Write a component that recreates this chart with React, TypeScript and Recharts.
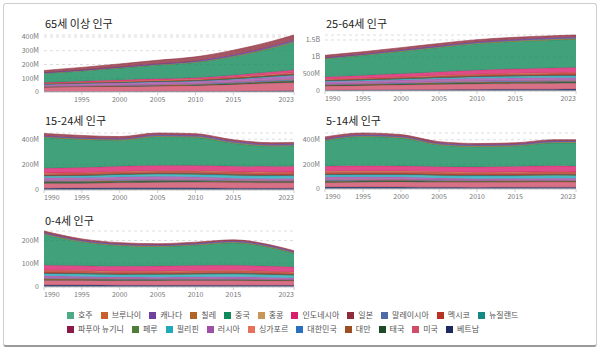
import { AreaChart, Area, XAxis, YAxis, CartesianGrid } from 'recharts'

const years = [1990, 1995, 2000, 2005, 2010, 2015, 2020, 2023]

// legend order
const countries = [
  '호주', '브루나이', '캐나다', '칠레', '중국', '홍콩', '인도네시아', '일본', '말레이시아', '멕시코', '뉴질랜드',
  '파푸아 뉴기니', '페루', '필리핀', '러시아', '싱가포르', '대한민국', '대만', '태국', '미국', '베트남',
]

const colors: Record<string, string> = {
  호주: '#4daa86',
  브루나이: '#c95f2c',
  캐나다: '#7040a0',
  칠레: '#b06425',
  중국: '#108a5a',
  홍콩: '#c8955a',
  인도네시아: '#d81f6b',
  일본: '#8e2c3c',
  말레이시아: '#4e6aa8',
  멕시코: '#b83324',
  뉴질랜드: '#168a82',
  '파푸아 뉴기니': '#8c1a48',
  페루: '#4e7d3a',
  필리핀: '#20a9b8',
  러시아: '#9e4fa6',
  싱가포르: '#e6705a',
  대한민국: '#2a70c0',
  대만: '#9c4f20',
  태국: '#1e4a28',
  미국: '#cf4d68',
  베트남: '#1c2b5c',
}

// bottom -> top
const stackOrder = [
  '베트남', '미국', '태국', '대만', '대한민국', '싱가포르', '러시아', '필리핀', '페루', '파푸아 뉴기니', '뉴질랜드',
  '멕시코', '홍콩', '인도네시아', '중국', '칠레', '호주', '브루나이', '말레이시아', '캐나다', '일본',
]

// population, millions
const age65plus: Record<string, number[]> = {
  호주: [1.9, 2.1, 2.4, 2.7, 3.0, 3.6, 4.2, 4.6],
  브루나이: [0.007, 0.009, 0.011, 0.014, 0.018, 0.024, 0.03, 0.035],
  캐나다: [3.1, 3.5, 3.8, 4.2, 4.8, 5.8, 6.8, 7.6],
  칠레: [0.8, 0.9, 1.1, 1.3, 1.6, 2.0, 2.5, 2.8],
  중국: [66, 75, 87, 100, 111, 134, 170, 200],
  홍콩: [0.5, 0.6, 0.7, 0.8, 0.9, 1.1, 1.4, 1.6],
  인도네시아: [6.2, 7.5, 9.5, 11.0, 12.3, 14.5, 17.5, 19.8],
  일본: [14.9, 18.3, 22.0, 25.6, 29.3, 33.8, 36.0, 36.2],
  말레이시아: [0.7, 0.8, 1.0, 1.2, 1.5, 1.9, 2.3, 2.6],
  멕시코: [3.5, 4.2, 5.0, 6.0, 7.0, 8.5, 10.2, 11.5],
  뉴질랜드: [0.4, 0.4, 0.5, 0.5, 0.6, 0.7, 0.8, 0.9],
  '파푸아 뉴기니': [0.08, 0.1, 0.12, 0.14, 0.17, 0.2, 0.25, 0.28],
  페루: [0.8, 1.0, 1.2, 1.4, 1.8, 2.2, 2.7, 3.0],
  필리핀: [1.9, 2.2, 2.6, 3.0, 3.6, 4.4, 5.3, 6.0],
  러시아: [14.6, 17.4, 18.3, 19.7, 18.3, 19.9, 22.2, 23.5],
  싱가포르: [0.17, 0.2, 0.25, 0.3, 0.35, 0.45, 0.6, 0.7],
  대한민국: [2.2, 2.7, 3.4, 4.4, 5.4, 6.6, 8.2, 9.5],
  대만: [1.3, 1.6, 1.9, 2.2, 2.5, 2.9, 3.8, 4.3],
  태국: [2.4, 3.0, 3.8, 4.7, 5.6, 7.5, 9.6, 11.1],
  미국: [31.2, 33.5, 35.0, 36.6, 40.5, 47.8, 55.7, 59.0],
  베트남: [3.5, 3.8, 4.4, 4.9, 5.0, 5.6, 7.4, 8.9],
}

const age25to64: Record<string, number[]> = {
  호주: [8, 8.8, 9.5, 10.3, 11.5, 12.5, 13.3, 14],
  브루나이: [0.1, 0.12, 0.15, 0.17, 0.2, 0.23, 0.25, 0.26],
  캐나다: [14, 15.5, 16.5, 18, 19, 20, 20.5, 21.5],
  칠레: [5.6, 6.4, 7.2, 8, 8.9, 9.8, 10.6, 11],
  중국: [540, 590, 655, 720, 780, 810, 825, 830],
  홍콩: [2.9, 3.2, 3.6, 3.9, 4.2, 4.3, 4.2, 4.1],
  인도네시아: [70, 82, 95, 107, 118, 130, 140, 146],
  일본: [66, 68, 69, 68, 66, 64, 62, 61],
  말레이시아: [6.5, 7.8, 9.2, 10.8, 12.5, 14.3, 16, 17],
  멕시코: [30, 36, 42, 48, 55, 61, 66, 69],
  뉴질랜드: [1.6, 1.7, 1.9, 2.1, 2.3, 2.4, 2.6, 2.7],
  '파푸아 뉴기니': [1.5, 1.7, 2.0, 2.4, 2.8, 3.3, 3.7, 4.0],
  페루: [8.3, 9.6, 11, 12.3, 13.8, 15.5, 17, 18],
  필리핀: [23, 27, 31, 36, 41, 46, 51, 55],
  러시아: [75, 76, 77, 80, 83, 82, 80, 78],
  싱가포르: [1.5, 1.8, 2.1, 2.4, 2.8, 3.1, 3.2, 3.2],
  대한민국: [20, 23, 26, 28, 30, 31, 31, 30],
  대만: [9.5, 10.5, 11.5, 12.5, 13.3, 13.8, 13.8, 13.7],
  태국: [24, 28, 31, 34, 37, 39, 40, 40],
  미국: [118, 128, 140, 153, 162, 167, 170, 172],
  베트남: [24, 29, 34, 40, 46, 50, 54, 56],
}

const age15to24: Record<string, number[]> = {
  호주: [2.7, 2.7, 2.7, 2.9, 3.1, 3.1, 3.1, 3.3],
  브루나이: [0.05, 0.05, 0.06, 0.07, 0.07, 0.07, 0.07, 0.07],
  캐나다: [4, 3.9, 4.1, 4.3, 4.6, 4.5, 4.4, 4.7],
  칠레: [2.5, 2.4, 2.5, 2.8, 3, 2.8, 2.6, 2.6],
  중국: [244, 222, 205, 228, 222, 180, 160, 160],
  홍콩: [1, 0.9, 0.9, 0.9, 0.9, 0.8, 0.7, 0.7],
  인도네시아: [37, 40, 41, 41, 42, 44, 45, 45],
  일본: [18, 18, 15.5, 13.8, 12.5, 12, 11.5, 11.2],
  말레이시아: [3.4, 3.8, 4.4, 5, 5.3, 5.4, 5.5, 5.4],
  멕시코: [18, 19, 19.5, 19.5, 21, 22, 22, 22],
  뉴질랜드: [0.6, 0.5, 0.5, 0.6, 0.6, 0.7, 0.7, 0.7],
  '파푸아 뉴기니': [0.9, 1.0, 1.2, 1.4, 1.6, 1.8, 1.9, 2.0],
  페루: [4.3, 4.6, 5, 5.4, 5.5, 5.3, 5.2, 5.4],
  필리핀: [12, 13.5, 15.5, 17, 18.5, 20, 21, 22],
  러시아: [21, 21, 23, 25, 21, 15, 14, 14.5],
  싱가포르: [0.5, 0.5, 0.5, 0.6, 0.7, 0.7, 0.7, 0.6],
  대한민국: [8.8, 8.4, 7.6, 6.8, 6.6, 6.4, 5.9, 5.3],
  대만: [4, 3.9, 3.6, 3.4, 3.3, 3.1, 2.6, 2.4],
  태국: [12, 12.5, 11.5, 10.7, 10.3, 9.8, 9.3, 9],
  미국: [37, 36, 40, 43, 44, 44, 43, 44],
  베트남: [13.5, 15, 17, 17, 17, 14.5, 13.5, 14],
}

const age5to14: Record<string, number[]> = {
  호주: [2.5, 2.6, 2.7, 2.7, 2.8, 3, 3.2, 3.3],
  브루나이: [0.05, 0.06, 0.07, 0.07, 0.06, 0.06, 0.06, 0.06],
  캐나다: [3.8, 4, 4.1, 3.9, 3.8, 3.8, 4, 4.1],
  칠레: [2.5, 2.8, 3, 2.8, 2.6, 2.5, 2.6, 2.6],
  중국: [208, 238, 228, 177, 164, 166, 187, 190],
  홍콩: [0.9, 0.9, 0.8, 0.8, 0.6, 0.6, 0.7, 0.7],
  인도네시아: [42, 42, 41, 42, 44, 46, 47, 46],
  일본: [17, 15, 12.5, 11.8, 11.5, 11, 10.5, 10],
  말레이시아: [4, 4.5, 4.8, 5.2, 5.3, 5.1, 5, 4.9],
  멕시코: [23, 23, 22.5, 22, 22, 22.5, 22, 21.5],
  뉴질랜드: [0.55, 0.58, 0.6, 0.6, 0.6, 0.6, 0.65, 0.66],
  '파푸아 뉴기니': [1.1, 1.3, 1.5, 1.7, 2, 2.2, 2.4, 2.5],
  페루: [5.5, 5.8, 6, 6, 5.8, 5.7, 5.8, 5.9],
  필리핀: [14.5, 16, 17.5, 19.5, 20.5, 21, 21.5, 21],
  러시아: [23, 22, 19, 15, 13, 14.5, 17, 17.5],
  싱가포르: [0.45, 0.5, 0.55, 0.55, 0.5, 0.48, 0.5, 0.5],
  대한민국: [8, 7, 6.7, 6.6, 5.3, 4.6, 4.6, 4.5],
  대만: [3.7, 3.4, 3.2, 3.1, 2.6, 2.1, 2, 1.9],
  태국: [11.5, 10.5, 9.8, 9.3, 8.8, 8.3, 7.8, 7.4],
  미국: [35, 38, 41, 40, 41, 41, 41, 40],
  베트남: [16, 17, 16.5, 14, 13, 14, 15, 15],
}

const age0to4: Record<string, number[]> = {
  호주: [1.3, 1.3, 1.3, 1.3, 1.5, 1.55, 1.55, 1.5],
  브루나이: [0.04, 0.04, 0.04, 0.035, 0.033, 0.032, 0.03, 0.03],
  캐나다: [1.9, 1.9, 1.7, 1.7, 1.9, 1.95, 1.9, 1.9],
  칠레: [1.5, 1.5, 1.3, 1.2, 1.2, 1.2, 1.1, 1.05],
  중국: [134, 102, 89, 84, 88, 97, 80, 59],
  홍콩: [0.4, 0.35, 0.3, 0.27, 0.35, 0.35, 0.25, 0.2],
  인도네시아: [21, 21, 21, 22, 23, 23, 22, 22],
  일본: [6.5, 6, 5.9, 5.6, 5.4, 5.1, 4.5, 4.1],
  말레이시아: [2.3, 2.5, 2.6, 2.5, 2.5, 2.6, 2.5, 2.4],
  멕시코: [11.5, 11.5, 11.3, 11, 11, 11, 10.5, 10.3],
  뉴질랜드: [0.3, 0.3, 0.29, 0.29, 0.32, 0.31, 0.3, 0.29],
  '파푸아 뉴기니': [0.7, 0.8, 0.9, 1, 1.1, 1.15, 1.2, 1.2],
  페루: [3, 3, 3, 2.9, 2.9, 3, 3, 3],
  필리핀: [8.5, 9.2, 9.7, 10.2, 10.6, 10.8, 10.6, 10.6],
  러시아: [10.5, 7.5, 6.3, 7.2, 8.3, 9.3, 8.5, 7.5],
  싱가포르: [0.25, 0.25, 0.23, 0.19, 0.2, 0.22, 0.2, 0.18],
  대한민국: [3.3, 3.5, 3.2, 2.4, 2.3, 2.2, 1.6, 1.3],
  대만: [1.6, 1.6, 1.5, 1.1, 0.9, 1, 0.85, 0.75],
  태국: [5, 4.8, 4.6, 4.4, 4.1, 3.7, 3.4, 3.2],
  미국: [18.5, 19.5, 19.2, 20, 20.2, 19.8, 19, 18.5],
  베트남: [9, 8.5, 7.5, 7.2, 7.3, 7.7, 7.6, 7.2],
}

const yearTicks = [1990, 1995, 2000, 2005, 2010, 2015, 2023]

const FONT = '"Noto Sans CJK KR", "Noto Sans", sans-serif'

function toRows(src: Record<string, number[]>) {
  return years.map((year, i) => {
    const row: Record<string, number> = { year }
    countries.forEach((c) => {
      row[c] = src[c][i]
    })
    return row
  })
}

function fmtPop(v: number) {
  if (v === 0) return '0'
  if (v >= 1000) return `${v / 1000}B`
  return `${v}M`
}

function YearTick(props: any) {
  const { x, y, payload } = props
  const v = payload.value
  const anchor = v === 1990 ? 'start' : v === 2023 ? 'end' : 'middle'
  return (
    <text x={x} y={y} dy="0.71em" textAnchor={anchor} fontSize={7} fill="#777" fontFamily={FONT}>
      {v}
    </text>
  )
}

const panels = [
  { title: '65세 이상 인구', src: age65plus, yTicks: [0, 100, 200, 300, 400], xTicks: yearTicks.slice(1), left: 0, top: 30, width: 300, height: 78, axisWidth: 44, titleTop: 16 },
  { title: '25-64세 인구', src: age25to64, yTicks: [0, 500, 1000, 1500], xTicks: yearTicks, left: 300, top: 30, width: 282, height: 77, axisWidth: 25, titleTop: 16 },
  { title: '15-24세 인구', src: age15to24, yTicks: [0, 200, 400], xTicks: yearTicks, left: 0, top: 128, width: 300, height: 78, axisWidth: 44, titleTop: 113 },
  { title: '5-14세 인구', src: age5to14, yTicks: [0, 200, 400], xTicks: yearTicks, left: 300, top: 128, width: 282, height: 77, axisWidth: 25, titleTop: 113 },
  { title: '0-4세 인구', src: age0to4, yTicks: [0, 100, 200], xTicks: yearTicks, left: 0, top: 226, width: 300, height: 77, axisWidth: 44, titleTop: 213 },
]

function Panel({ p }: { p: (typeof panels)[number] }) {
  const rows = toRows(p.src)
  return (
    <>
      <div
        style={{
          position: 'absolute',
          left: p.left + p.axisWidth + 1,
          top: p.titleTop,
          fontSize: 11,
          lineHeight: '14px',
          color: '#222',
          fontWeight: 400,
          whiteSpace: 'nowrap',
        }}
      >
        {p.title}
      </div>
      <div style={{ position: 'absolute', left: p.left, top: p.top }}>
        <AreaChart width={p.width} height={p.height} data={rows} margin={{ top: 5, right: 6, left: 0, bottom: 0 }}>
          <CartesianGrid vertical={false} stroke="#ddd" strokeDasharray="3 3" />
          <XAxis
            dataKey="year"
            type="number"
            domain={[1990, 2023]}
            ticks={p.xTicks}
            interval={0}
            height={16}
            tickSize={3}
            tick={<YearTick />}
            axisLine={{ stroke: '#ccc' }}
            tickLine={{ stroke: '#ccc' }}
          />
          <YAxis
            width={p.axisWidth}
            domain={[0, 'dataMax']}
            ticks={p.yTicks}
            interval={0}
            tickFormatter={fmtPop}
            axisLine={false}
            tickLine={false}
            tickSize={0}
            tickMargin={5}
            tick={{ fontSize: 7, fill: '#777', fontFamily: FONT }}
          />
          {stackOrder.map((c) => (
            <Area
              key={c}
              dataKey={c}
              stackId="pop"
              type="monotone"
              fill={colors[c]}
              fillOpacity={0.8}
              stroke={colors[c]}
              strokeWidth={0.6}
              dot={false}
              activeDot={false}
              isAnimationActive={false}
            />
          ))}
        </AreaChart>
      </div>
    </>
  )
}

export default function App() {
  return (
    <div
      style={{
        position: 'absolute',
        left: 0,
        top: 0,
        width: 600,
        height: 350,
        background: '#fff',
        fontFamily: FONT,
      }}
    >
      <div
        style={{
          position: 'absolute',
          left: 3,
          top: 3,
          width: 592,
          height: 341,
          border: '1px solid #cfcfcf',
          borderBottom: '2px solid #9a9a9a',
          borderRadius: 3,
        }}
      />
      {panels.map((p) => (
        <Panel key={p.title} p={p} />
      ))}
      <div
        style={{
          position: 'absolute',
          left: 67,
          top: 308,
          width: 500,
          display: 'flex',
          flexWrap: 'wrap',
          fontSize: 8,
          lineHeight: '14px',
          color: '#555',
        }}
      >
        {countries.map((c) => (
          <div key={c} style={{ display: 'flex', alignItems: 'center', marginRight: 8, whiteSpace: 'nowrap' }}>
            <span style={{ width: 7, height: 7, background: colors[c], marginRight: 4, display: 'inline-block' }} />
            {c}
          </div>
        ))}
      </div>
    </div>
  )
}
